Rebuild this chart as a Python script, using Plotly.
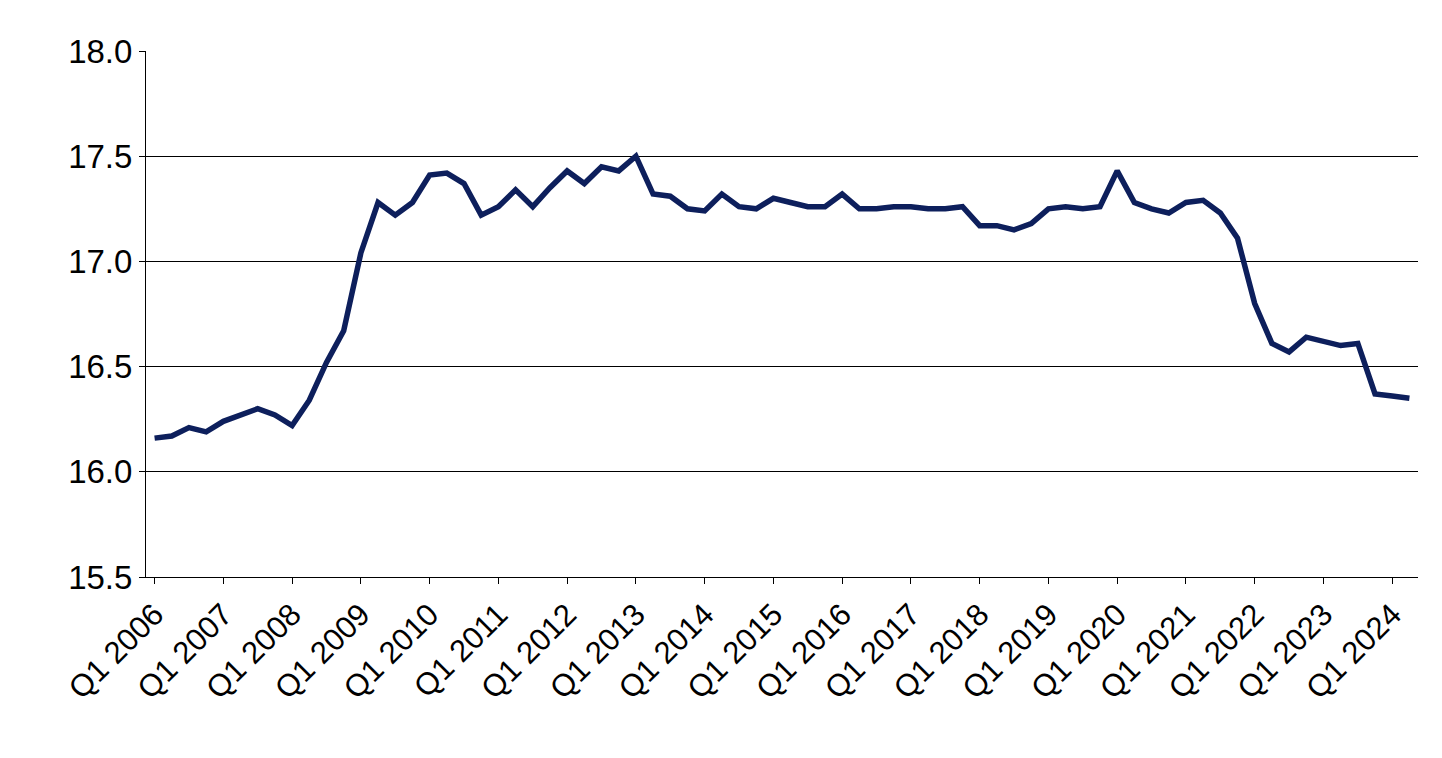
import plotly.graph_objects as go

years = list(range(2006, 2025))
quarters = [f"Q{q} {y}" for y in years for q in range(1, 5)][:74]
values = [
    16.16, 16.17, 16.21, 16.19,
    16.24, 16.27, 16.30, 16.27,
    16.22, 16.34, 16.52, 16.67,
    17.04, 17.28, 17.22, 17.28,
    17.41, 17.42, 17.37, 17.22,
    17.26, 17.34, 17.26, 17.35,
    17.43, 17.37, 17.45, 17.43,
    17.50, 17.32, 17.31, 17.25,
    17.24, 17.32, 17.26, 17.25,
    17.30, 17.28, 17.26, 17.26,
    17.32, 17.25, 17.25, 17.26,
    17.26, 17.25, 17.25, 17.26,
    17.17, 17.17, 17.15, 17.18,
    17.25, 17.26, 17.25, 17.26,
    17.43, 17.28, 17.25, 17.23,
    17.28, 17.29, 17.23, 17.11,
    16.80, 16.61, 16.57, 16.64,
    16.62, 16.60, 16.61, 16.37,
    16.36, 16.35,
]
xi = list(range(len(values)))
tick_idx = list(range(0, len(values), 4))
tick_text = [quarters[i] for i in tick_idx]
yticks = [15.5, 16.0, 16.5, 17.0, 17.5, 18.0]

fig = go.Figure(go.Scatter(x=xi, y=values, mode="lines",
                           line=dict(color="#0d1f5c", width=5.5), hoverinfo="skip"))
fig.update_layout(
    width=1442, height=758, paper_bgcolor="white", plot_bgcolor="white",
    margin=dict(l=138, r=32, t=43, b=189), showlegend=False,
    font=dict(family="Liberation Sans, Arial", color="black"),
)
fig.update_xaxes(range=[-0.5, len(values) - 0.5], tickvals=tick_idx, ticktext=tick_text,
                 tickangle=-45, tickfont=dict(size=31), showgrid=False, automargin=False,
                 showline=True, linecolor="black", linewidth=1, ticks="outside",
                 ticklen=6, tickcolor="black", zeroline=False)
fig.update_yaxes(range=[15.5, 18.0], tickvals=yticks, ticktext=[f"{v:.1f}" for v in yticks],
                 tickfont=dict(size=33), showgrid=True, gridcolor="black", gridwidth=1,
                 automargin=False,
                 showline=True, linecolor="black", linewidth=1, ticks="outside",
                 ticklen=6, tickcolor="black", zeroline=False)
fig.write_html("out.html")
